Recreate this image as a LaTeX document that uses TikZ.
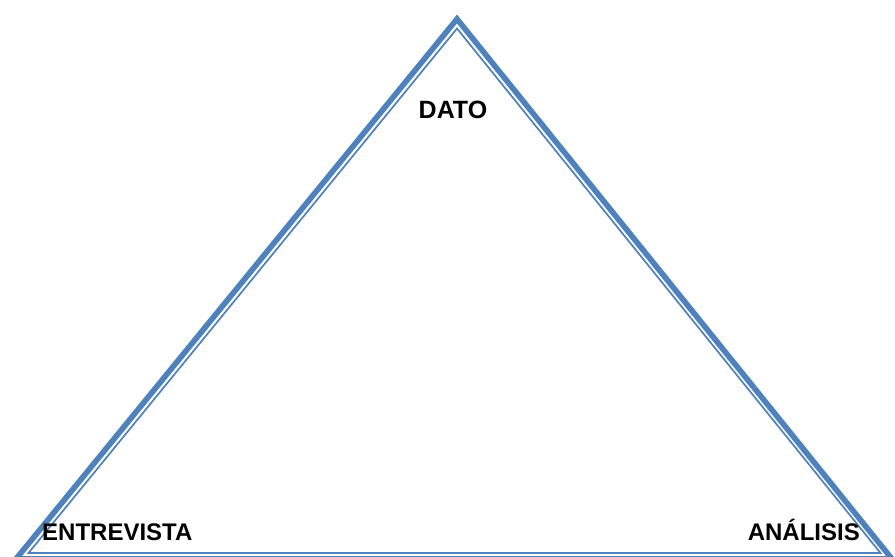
\documentclass[tikz,border=0pt]{standalone}
\usepackage{fontspec}
\setmainfont{Liberation Sans}
\definecolor{wordblue}{HTML}{4F81BD}
\begin{document}
\begin{tikzpicture}[x=1pt,y=-1pt,
  thickedge/.style={draw=wordblue,line width=5.6pt,line join=miter},
  thinedge/.style={draw=wordblue,line width=1.7pt,line join=miter},
  lbl/.style={inner sep=0pt,font=\fontsize{24}{28}\selectfont\bfseries}]
\useasboundingbox (0,0) rectangle (895,557);
\clip (0,0) rectangle (895,557);
\fill[white] (0,0) rectangle (895,557);
% outer thick triangle
\coordinate (oA) at (457,19);
\coordinate (oB) at (16,559);
\coordinate (oC) at (892,559);
\draw[thickedge] (oA) -- (oB) -- (oC) -- cycle;
% inner thin triangle
\coordinate (iA) at (457,28.5);
\coordinate (iB) at (28.5,553);
\coordinate (iC) at (880.5,553);
\draw[thinedge] (iA) -- (iB) -- (iC) -- cycle;
% labels
\node[lbl,anchor=base,font=\fontsize{25}{29}\selectfont\bfseries] (dato) at (453,118) {DATO};
\node[lbl,anchor=base west] (entrevista) at (42,540) {ENTREVISTA};
\node[lbl,anchor=base east] (analisis) at (860,540) {ANÁLISIS};
\end{tikzpicture}
\end{document}
